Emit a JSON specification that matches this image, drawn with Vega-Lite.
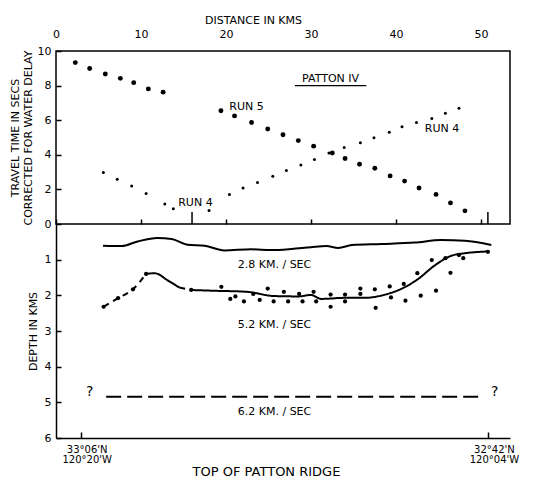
{
  "$schema": "https://vega.github.io/schema/vega-lite/v6.json",
  "autosize": {"type": "pad"},
  "padding": {"left": 8, "top": 13, "right": 0, "bottom": 0},
  "spacing": 0,
  "bounds": "flush",
  "background": "white",
  "config": {
    "font": "DejaVu Sans",
    "view": {"stroke": null},
    "axis": {
      "labelFont": "DejaVu Sans",
      "titleFont": "DejaVu Sans",
      "labelColor": "black",
      "titleColor": "black",
      "domainColor": "black",
      "tickColor": "black",
      "gridColor": "black",
      "gridOpacity": 1,
      "gridWidth": 1.5,
      "titleFontWeight": "normal",
      "labelFontSize": 11,
      "titleFontSize": 11,
      "domainWidth": 1.5,
      "tickWidth": 1.5,
      "labelOverlap": false,
      "labelFlush": false,
      "labelBound": false,
      "labelSeparation": -30
    },
    "text": {"font": "DejaVu Sans", "color": "black"}
  },
  "datasets": {
    "run5": [
      {"d": 2.27, "t": 9.33}, {"d": 3.96, "t": 8.99}, {"d": 5.8, "t": 8.67}, {"d": 7.57, "t": 8.42},
      {"d": 9.14, "t": 8.17}, {"d": 10.86, "t": 7.81}, {"d": 12.6, "t": 7.62}, {"d": 19.4, "t": 6.55},
      {"d": 21.0, "t": 6.25}, {"d": 23.0, "t": 5.87}, {"d": 24.9, "t": 5.49}, {"d": 26.7, "t": 5.16},
      {"d": 28.5, "t": 4.82}, {"d": 30.3, "t": 4.5}, {"d": 32.5, "t": 4.1}, {"d": 34.0, "t": 3.79},
      {"d": 35.7, "t": 3.45}, {"d": 37.5, "t": 3.22}, {"d": 39.3, "t": 2.78}, {"d": 41.0, "t": 2.48},
      {"d": 42.7, "t": 2.08}, {"d": 44.7, "t": 1.71}, {"d": 46.4, "t": 1.22}, {"d": 48.1, "t": 0.76}
    ],
    "run4": [
      {"d": 5.57, "t": 2.97}, {"d": 7.2, "t": 2.59}, {"d": 8.9, "t": 2.19}, {"d": 10.6, "t": 1.77},
      {"d": 12.8, "t": 1.16}, {"d": 13.8, "t": 0.88}, {"d": 18.0, "t": 0.78}, {"d": 20.4, "t": 1.71},
      {"d": 22.0, "t": 2.08}, {"d": 23.7, "t": 2.4}, {"d": 25.5, "t": 2.76}, {"d": 27.1, "t": 3.09},
      {"d": 28.8, "t": 3.41}, {"d": 30.4, "t": 3.73}, {"d": 32.1, "t": 4.11}, {"d": 33.9, "t": 4.42},
      {"d": 35.8, "t": 4.7}, {"d": 37.4, "t": 4.99}, {"d": 39.2, "t": 5.31}, {"d": 40.7, "t": 5.62},
      {"d": 42.4, "t": 5.87}, {"d": 44.2, "t": 6.1}, {"d": 45.8, "t": 6.4}, {"d": 47.4, "t": 6.69}
    ],
    "topLabels": [
      {"d": 22.4, "t": 6.74, "label": "RUN 5"},
      {"d": 45.4, "t": 5.5, "label": "RUN 4"},
      {"d": 16.4, "t": 1.24, "label": "RUN 4"},
      {"d": 32.3, "t": 8.4, "label": "PATTON IV"}
    ],
    "underline": [{"d1": 28.1, "d2": 36.5, "t": 8.0}],
    "ridgeTicks": [{"d": 16.0, "t0": 0, "t1": 0.7}, {"d": 50.8, "t0": 0, "t1": 0.7}],
    "line28": [
      {"d": 5.53, "depth": 0.61}, {"d": 7.7, "depth": 0.62}, {"d": 9.6, "depth": 0.49}, {"d": 11.9, "depth": 0.39},
      {"d": 13.6, "depth": 0.42}, {"d": 15.5, "depth": 0.58}, {"d": 17.5, "depth": 0.61}, {"d": 19.8, "depth": 0.74},
      {"d": 23.0, "depth": 0.71}, {"d": 25.3, "depth": 0.73}, {"d": 27.7, "depth": 0.7}, {"d": 30.0, "depth": 0.65},
      {"d": 31.8, "depth": 0.62}, {"d": 33.2, "depth": 0.67}, {"d": 34.8, "depth": 0.59}, {"d": 38.3, "depth": 0.56},
      {"d": 42.2, "depth": 0.52}, {"d": 45.3, "depth": 0.45}, {"d": 48.1, "depth": 0.47}, {"d": 51.2, "depth": 0.59}
    ],
    "line52": [
      {"seg": "a", "style": "dash", "d": 5.6, "depth": 2.32},
      {"seg": "a", "style": "dash", "d": 7.3, "depth": 2.08},
      {"seg": "a", "style": "dash", "d": 9.05, "depth": 1.83},
      {"seg": "a", "style": "dash", "d": 10.6, "depth": 1.4},
      {"seg": "b", "style": "solid", "d": 10.6, "depth": 1.4},
      {"seg": "b", "style": "solid", "d": 11.6, "depth": 1.38},
      {"seg": "b", "style": "solid", "d": 13.2, "depth": 1.59},
      {"seg": "b", "style": "solid", "d": 14.5, "depth": 1.78},
      {"seg": "c", "style": "dash", "d": 14.5, "depth": 1.78},
      {"seg": "c", "style": "dash", "d": 15.9, "depth": 1.85},
      {"seg": "d", "style": "solid", "d": 15.9, "depth": 1.85},
      {"seg": "d", "style": "solid", "d": 18.3, "depth": 1.87},
      {"seg": "d", "style": "solid", "d": 22.4, "depth": 1.9},
      {"seg": "d", "style": "solid", "d": 25.7, "depth": 2.02},
      {"seg": "d", "style": "solid", "d": 28.5, "depth": 2.03},
      {"seg": "d", "style": "solid", "d": 30.0, "depth": 1.99},
      {"seg": "d", "style": "solid", "d": 31.2, "depth": 2.1},
      {"seg": "d", "style": "solid", "d": 34.0, "depth": 2.07},
      {"seg": "d", "style": "solid", "d": 36.3, "depth": 2.07},
      {"seg": "d", "style": "solid", "d": 38.7, "depth": 1.98},
      {"seg": "d", "style": "solid", "d": 40.6, "depth": 1.82},
      {"seg": "d", "style": "solid", "d": 42.6, "depth": 1.54},
      {"seg": "d", "style": "solid", "d": 44.5, "depth": 1.17},
      {"seg": "d", "style": "solid", "d": 46.5, "depth": 0.89},
      {"seg": "d", "style": "solid", "d": 48.1, "depth": 0.82},
      {"seg": "d", "style": "solid", "d": 50.8, "depth": 0.77}
    ],
    "pts52": [
      {"d": 5.6, "depth": 2.32}, {"d": 7.3, "depth": 2.08}, {"d": 9.05, "depth": 1.83}, {"d": 10.6, "depth": 1.4},
      {"d": 15.9, "depth": 1.85},
      {"d": 19.45, "depth": 1.76}, {"d": 20.5, "depth": 2.1}, {"d": 21.1, "depth": 2.03}, {"d": 22.1, "depth": 2.17},
      {"d": 23.2, "depth": 1.96}, {"d": 23.96, "depth": 2.13}, {"d": 24.9, "depth": 1.81}, {"d": 25.6, "depth": 2.17},
      {"d": 26.8, "depth": 1.9}, {"d": 27.3, "depth": 2.17}, {"d": 28.6, "depth": 1.96}, {"d": 29.0, "depth": 2.17},
      {"d": 30.3, "depth": 1.9}, {"d": 30.6, "depth": 2.17}, {"d": 32.3, "depth": 1.98}, {"d": 32.3, "depth": 2.32},
      {"d": 34.0, "depth": 1.98}, {"d": 34.0, "depth": 2.17}, {"d": 35.8, "depth": 1.81}, {"d": 35.8, "depth": 1.96},
      {"d": 37.5, "depth": 1.83}, {"d": 37.6, "depth": 2.35}, {"d": 39.25, "depth": 1.75}, {"d": 39.4, "depth": 2.06},
      {"d": 40.9, "depth": 1.68}, {"d": 41.1, "depth": 2.15}, {"d": 42.5, "depth": 1.38}, {"d": 42.9, "depth": 2.01},
      {"d": 44.2, "depth": 1.01}, {"d": 44.7, "depth": 1.87}, {"d": 45.8, "depth": 0.96}, {"d": 46.4, "depth": 1.37},
      {"d": 47.4, "depth": 0.87}, {"d": 47.9, "depth": 0.96}, {"d": 50.8, "depth": 0.78}
    ],
    "line62": [{"d": 5.9, "depth": 4.84}, {"d": 49.8, "depth": 4.84}],
    "bottomLabels": [
      {"d": 25.7, "depth": 1.15, "label": "2.8 KM. / SEC"},
      {"d": 25.7, "depth": 2.83, "label": "5.2 KM. / SEC"},
      {"d": 25.7, "depth": 5.28, "label": "6.2 KM. / SEC"}
    ],
    "qmarks": [{"d": 3.96, "depth": 4.72, "label": "?"}, {"d": 51.6, "depth": 4.72, "label": "?"}]
  },
  "vconcat": [
    {
      "width": 454,
      "height": 173,
      "view": {"stroke": "black", "strokeWidth": 1.5},
      "layer": [
        {
          "data": {"name": "run5"},
          "mark": {"type": "point", "filled": true, "color": "black", "size": 24, "opacity": 1},
          "encoding": {
            "x": {
              "field": "d", "type": "quantitative",
              "scale": {"domain": [0, 53.4], "nice": false, "zero": false},
              "axis": {
                "orient": "top", "values": [0, 10, 20, 30, 40, 50], "title": "DISTANCE IN KMS",
                "ticks": false, "grid": true, "gridDash": [5, 1000],
                "labelPadding": 12, "titlePadding": 3, "domain": false,
                "labelFontSize": 11, "titleX": 197, "labelOverlap": false
              }
            },
            "y": {
              "field": "t", "type": "quantitative",
              "scale": {"domain": [0, 10], "nice": false},
              "axis": {
                "values": [0, 1, 2, 3, 4, 5, 6, 7, 8, 9, 10], "tickCount": 10,
                "labelExpr": "datum.value % 2 == 0 ? datum.label : ''",
                "ticks": false, "grid": true, "gridDash": [5, 1000],
                "labelPadding": 5, "titlePadding": 4, "domain": false,
                "title": ["TRAVEL TIME IN SECS", "CORRECTED FOR WATER DELAY"], "titleLineHeight": 13,
                "titleFontSize": 11, "labelOverlap": false, "labelFlush": false
              }
            }
          }
        },
        {
          "data": {"name": "run4"},
          "mark": {"type": "point", "filled": true, "color": "black", "size": 9, "opacity": 1},
          "encoding": {
            "x": {"field": "d", "type": "quantitative"},
            "y": {"field": "t", "type": "quantitative"}
          }
        },
        {
          "data": {"name": "topLabels"},
          "mark": {"type": "text", "fontSize": 11, "color": "black"},
          "encoding": {
            "x": {"field": "d", "type": "quantitative"},
            "y": {"field": "t", "type": "quantitative"},
            "text": {"field": "label"}
          }
        },
        {
          "data": {"name": "underline"},
          "mark": {"type": "rule", "color": "black", "strokeWidth": 1.2},
          "encoding": {
            "x": {"field": "d1", "type": "quantitative"},
            "x2": {"field": "d2"},
            "y": {"field": "t", "type": "quantitative"}
          }
        },
        {
          "data": {"name": "ridgeTicks"},
          "mark": {"type": "rule", "color": "black", "strokeWidth": 1.5},
          "encoding": {
            "x": {"field": "d", "type": "quantitative"},
            "y": {"field": "t0", "type": "quantitative"},
            "y2": {"field": "t1"}
          }
        }
      ]
    },
    {
      "width": 454,
      "height": 214,
      "layer": [
        {
          "data": {"name": "line28"},
          "mark": {"type": "line", "color": "black", "strokeWidth": 2, "interpolate": "monotone"},
          "encoding": {
            "x": {
              "field": "d", "type": "quantitative",
              "scale": {"domain": [0, 53.4], "nice": false, "zero": false},
              "axis": {
                "orient": "bottom", "values": [2.9, 50.8],
                "labelExpr": "datum.value < 20 ? [\"33°06'N\", \"120°20'W\"] : [\"32°42'N\", \"120°04'W\"]",
                "labelLineHeight": 10, "labelFontSize": 10, "labelBaseline": "top",
                "ticks": false, "grid": true, "gridDash": [6, 1000],
                "labelPadding": 6, "labelOffset": 6, "title": "TOP OF PATTON RIDGE",
                "titleFontSize": 13, "titlePadding": 1, "titleX": 210, "labelOverlap": false
              }
            },
            "y": {
              "field": "depth", "type": "quantitative",
              "scale": {"domain": [0, 6], "reverse": true, "nice": false},
              "axis": {
                "values": [1, 2, 3, 4, 5, 6], "tickCount": 12, "format": "d",
                "ticks": false, "grid": true, "gridDash": [5, 1000],
                "labelPadding": 5, "titlePadding": 6, "labelSeparation": -30,
                "title": "DEPTH IN KMS", "labelOverlap": false, "labelFlush": false
              }
            }
          }
        },
        {
          "data": {"name": "line52"},
          "mark": {"type": "line", "color": "black", "strokeWidth": 2, "interpolate": "monotone"},
          "encoding": {
            "x": {"field": "d", "type": "quantitative"},
            "y": {"field": "depth", "type": "quantitative"},
            "detail": {"field": "seg"},
            "strokeDash": {
              "field": "style", "type": "nominal",
              "scale": {"domain": ["dash", "solid"], "range": [[6, 5], [1, 0]]},
              "legend": null
            }
          }
        },
        {
          "data": {"name": "pts52"},
          "mark": {"type": "point", "filled": true, "color": "black", "size": 18, "opacity": 1},
          "encoding": {
            "x": {"field": "d", "type": "quantitative"},
            "y": {"field": "depth", "type": "quantitative"}
          }
        },
        {
          "data": {"name": "line62"},
          "mark": {"type": "line", "color": "black", "strokeWidth": 2, "strokeDash": [15, 6]},
          "encoding": {
            "x": {"field": "d", "type": "quantitative"},
            "y": {"field": "depth", "type": "quantitative"}
          }
        },
        {
          "data": {"name": "bottomLabels"},
          "mark": {"type": "text", "fontSize": 11, "color": "black"},
          "encoding": {
            "x": {"field": "d", "type": "quantitative"},
            "y": {"field": "depth", "type": "quantitative"},
            "text": {"field": "label"}
          }
        },
        {
          "data": {"name": "qmarks"},
          "mark": {"type": "text", "fontSize": 14, "color": "black"},
          "encoding": {
            "x": {"field": "d", "type": "quantitative"},
            "y": {"field": "depth", "type": "quantitative"},
            "text": {"field": "label"}
          }
        }
      ]
    }
  ]
}
